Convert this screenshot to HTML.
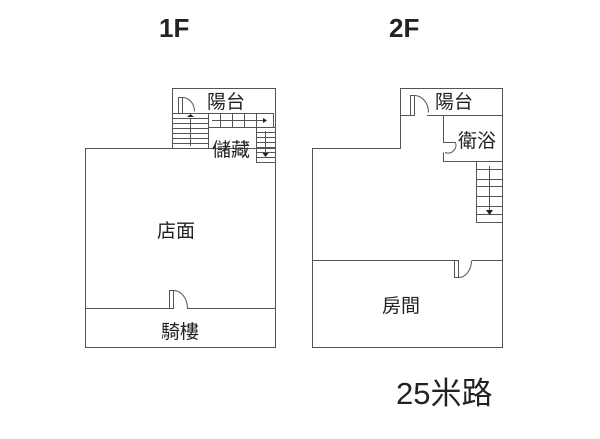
<!DOCTYPE html><html><head><meta charset="utf-8"><style>body{margin:0;background:#fff}svg{display:block}text{font-family:"Liberation Sans","Noto Sans CJK TC",sans-serif}</style></head><body>
<svg width="600" height="439" viewBox="0 0 600 439" xmlns="http://www.w3.org/2000/svg">
<g fill="none" stroke="#555" stroke-width="1">
<rect x="85.5" y="148.5" width="190" height="199"/>
<path d="M172.5 148.5V88.5H275.5V148.5"/>
<line x1="85.5" y1="308.5" x2="169" y2="308.5"/><line x1="187" y1="308.5" x2="275.5" y2="308.5"/>
<rect x="169.5" y="290.5" width="4" height="18"/><path d="M173.5 290.5A14 18 0 0 1 187.5 308.5"/>
<rect x="178.5" y="97.5" width="4" height="16"/><path d="M182.5 97.5A12 14 0 0 1 194.5 111.5"/>
<rect x="172.5" y="113.5" width="36" height="35"/>
<path d="M172.5 118.5H208.5M172.5 123.5H208.5M172.5 128.5H208.5M172.5 133.5H208.5M172.5 138.5H208.5M172.5 143.5H208.5"/>
<line x1="190.5" y1="118" x2="190.5" y2="146"/>
<rect x="208.5" y="113.5" width="65" height="14"/>
<path d="M220.5 113.5V127.5M232.5 113.5V127.5M244.5 113.5V127.5M256.5 113.5V127.5"/>
<line x1="212" y1="120.5" x2="266" y2="120.5"/>
<rect x="256.5" y="127.5" width="19" height="35"/>
<path d="M256.5 132.5H275.5M256.5 137.5H275.5M256.5 142.5H275.5M256.5 147.5H275.5M256.5 152.5H275.5M256.5 157.5H275.5"/>
<line x1="265.5" y1="131" x2="265.5" y2="153"/>
<path d="M400.5 148.5H312.5V347.5H502.5V88.5H400.5Z"/>
<path d="M400.5 115.5H410.5M427 115.5H502.5"/>
<rect x="410.5" y="95.5" width="4" height="20"/><path d="M414.5 95.5A14 17 0 0 1 428.5 112.5"/>
<path d="M443.5 115.5V142.5H455.5M443.5 152.5V161.5H502.5"/><path d="M455.5 142.5A8 8 0 0 1 445 152.5"/>
<line x1="312.5" y1="260.5" x2="454" y2="260.5"/><line x1="472" y1="260.5" x2="502.5" y2="260.5"/>
<rect x="454.5" y="260.5" width="4" height="17"/><path d="M458.5 277.5A13 17 0 0 0 471.5 260.5"/>
<rect x="476.5" y="161.5" width="26" height="61"/>
<path d="M476.5 169.5H502.5M476.5 179.5H502.5M476.5 186.5H502.5M476.5 196.5H502.5M476.5 206.5H502.5M476.5 214.5H502.5"/>
<line x1="489.5" y1="166" x2="489.5" y2="210"/>
</g>
<g fill="#222"><path d="M187 117l3.5-3 3.5 3z"/><path d="M263 118l4 2.5-4 2.5z"/><path d="M262.5 153l3 4 3-4z"/><path d="M486 210l3.5 5 3.5-5z"/></g>
<g fill="#222" font-size="19">
<text x="159" y="37" font-size="26" font-weight="bold">1F</text><text x="389" y="37" font-size="26" font-weight="bold">2F</text>
<text x="207" y="108">陽台</text><text x="212" y="156">儲藏</text>
<text x="157" y="237">店面</text><text x="161" y="338">騎樓</text>
<text x="435" y="108">陽台</text><text x="458" y="147">衛浴</text>
<text x="382" y="312">房間</text>
<text x="396" y="404" font-size="31">25米路</text>
</g>
</svg></body></html>
